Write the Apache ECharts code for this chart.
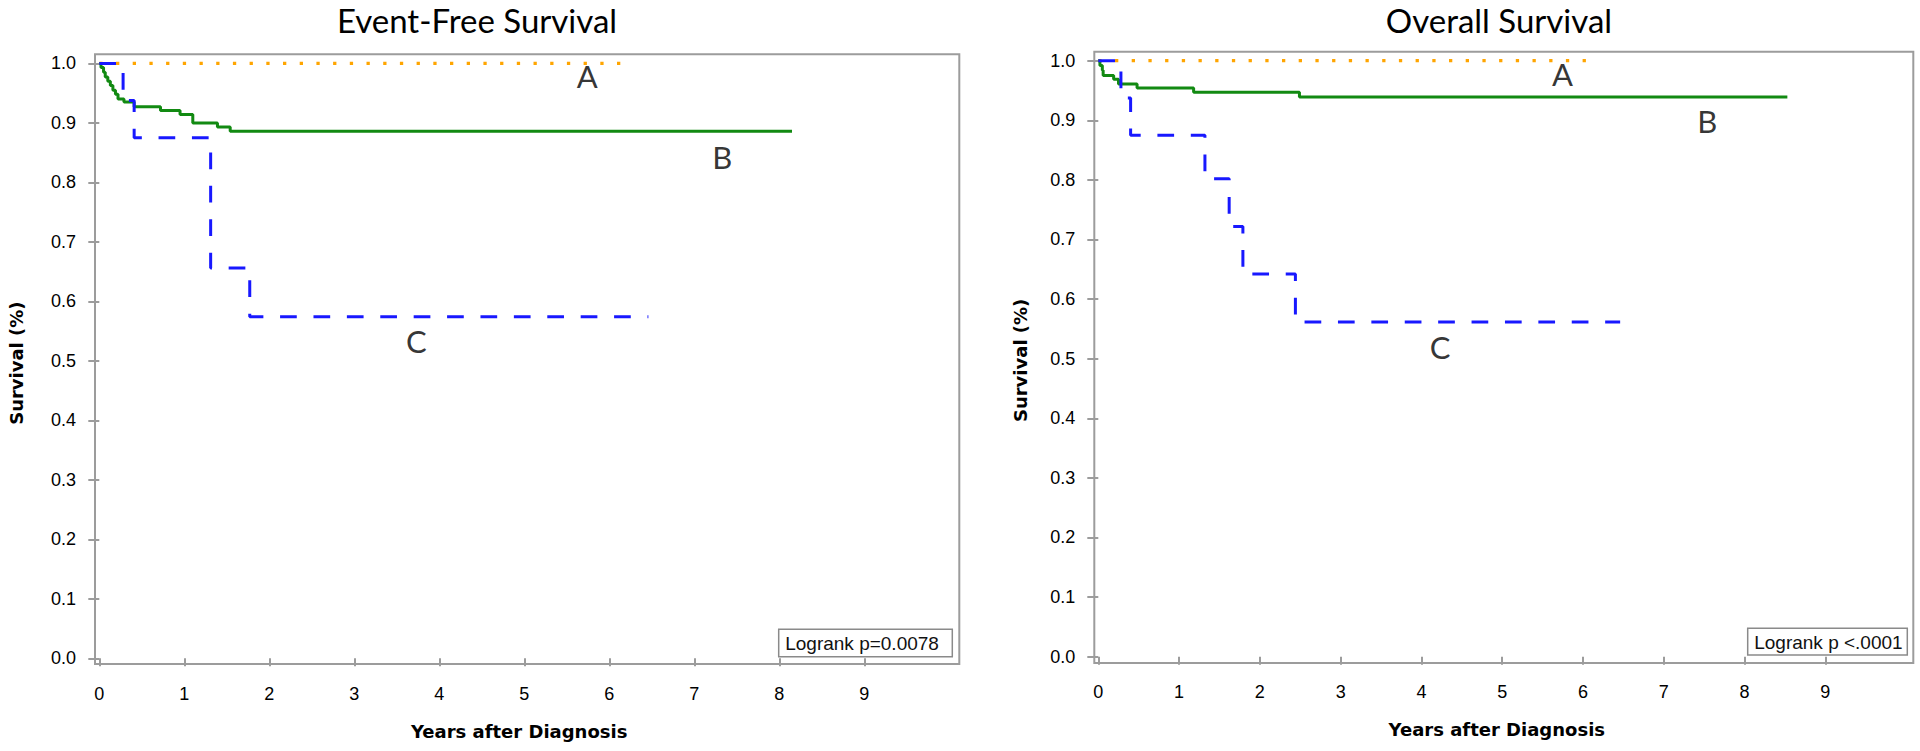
<!DOCTYPE html>
<html>
<head>
<meta charset="utf-8">
<script src="https://cdn.jsdelivr.net/npm/echarts@6/dist/echarts.min.js"></script>
<style>html,body{margin:0;padding:0;background:#fff}#c{width:1920px;height:751px}</style>
</head>
<body>
<div id="c"></div>
<script>
// ---------- data ----------
const xTicks = [0, 1, 2, 3, 4, 5, 6, 7, 8, 9];
const yTicks = [0, 0.1, 0.2, 0.3, 0.4, 0.5, 0.6, 0.7, 0.8, 0.9, 1.0];
const panelTitles = ['Event-Free Survival', 'Overall Survival'];
const logrankTexts = ['Logrank p=0.0078', 'Logrank p <.0001'];
const xAxisName = 'Years after Diagnosis';
const yAxisName = 'Survival (%)';
const groupNames = ['A', 'B', 'C'];

// Event-free survival: [years, survival]
const efsA = [[0, 1.0], [6.15, 1.0]];
const efsB = [[0, 1.0], [0.02, 0.993], [0.05, 0.985], [0.07, 0.977], [0.10, 0.970], [0.13, 0.963],
  [0.16, 0.955], [0.19, 0.948], [0.22, 0.940], [0.29, 0.935], [0.41, 0.927], [0.72, 0.921],
  [0.95, 0.914], [1.10, 0.900], [1.39, 0.893], [1.54, 0.886], [8.15, 0.886]];
const efsC = [[0, 1.0], [0.28, 0.9375], [0.41, 0.875], [1.31, 0.656], [1.77, 0.574], [6.46, 0.574]];

// Overall survival: [years, survival]
const osA = [[0, 1.0], [6.12, 1.0]];
const osB = [[0, 1.0], [0.02, 0.992], [0.05, 0.984], [0.06, 0.975], [0.19, 0.969], [0.25, 0.961],
  [0.48, 0.954], [1.18, 0.947], [2.49, 0.939], [8.53, 0.939]];
const osC = [[0, 1.0], [0.28, 0.9375], [0.40, 0.875], [1.32, 0.802], [1.62, 0.722], [1.79, 0.642],
  [2.44, 0.5615], [6.46, 0.5615]];

// group label anchors in data units [years, survival]
const efsLabelAt = [[5.74, 0.979], [7.33, 0.842], [3.73, 0.533]];
const osLabelAt = [[5.745, 0.978], [7.54, 0.899], [4.23, 0.519]];

// ---------- chart ----------
const chart = echarts.init(document.getElementById('c'), null, {renderer: 'svg'});

const FRAME = '#9c9c9c';
const TXT = '#000';

const grids = [
  {left: 95, right: 960.7, top: 54.3, bottom: 87},
  {left: 1094.3, right: 6.7, top: 51.7, bottom: 88}
];
const xRange = [[-0.0506, 10.118], [-0.0495, 10.089]];
const yRange = [[-0.0096, 1.0153], [-0.0106, 1.0151]];
const xLabelMargin = [21, 20];
const xNameGap = [58, 57];
const xNameShift = [16, 14];
const yNameGap = [70, 65];
const yNameShift = [8, 6];

function xAxisFor(i) {
  return {
    type: 'value', gridIndex: i, min: xRange[i][0], max: xRange[i][1],
    axisLine: {show: false}, splitLine: {show: false},
    axisTick: {show: true, length: 8, customValues: xTicks, lineStyle: {color: FRAME, width: 2}},
    axisLabel: {customValues: xTicks, margin: xLabelMargin[i], fontSize: 18, color: TXT,
      fontFamily: 'Liberation Sans', formatter: v => String(Math.round(v))},
    name: xAxisName, nameLocation: 'middle', nameGap: xNameGap[i],
    nameTextStyle: {fontFamily: 'DejaVu Sans', fontWeight: 'bold', fontSize: 18, color: TXT,
      padding: [0, xNameShift[i], 0, 0]}
  };
}
function yAxisFor(i) {
  return {
    type: 'value', gridIndex: i, min: yRange[i][0], max: yRange[i][1],
    axisLine: {show: false}, splitLine: {show: false},
    axisTick: {show: true, length: 11, customValues: yTicks, lineStyle: {color: FRAME, width: 2}},
    axisLabel: {customValues: yTicks, margin: 19, fontSize: 18, color: TXT,
      fontFamily: 'Liberation Sans', formatter: v => v.toFixed(1)},
    name: yAxisName, nameLocation: 'middle', nameGap: yNameGap[i], nameRotate: 90,
    nameTextStyle: {fontFamily: 'DejaVu Sans', fontWeight: 'bold', fontSize: 18, color: TXT,
      padding: [0, yNameShift[i], 0, 0]}
  };
}

function lineA(data, i) {
  return {type: 'line', step: 'end', xAxisIndex: i, yAxisIndex: i, data, symbol: 'none', silent: true,
    z: 2, lineStyle: {color: '#ffa500', width: 3.3, type: [3.3, 13.4], cap: 'butt'}};
}
function lineB(data, i) {
  return {type: 'line', step: 'end', xAxisIndex: i, yAxisIndex: i, data, symbol: 'none', silent: true,
    z: 3, lineStyle: {color: '#128a12', width: 3}};
}
function lineC(data, i) {
  return {type: 'line', step: 'end', xAxisIndex: i, yAxisIndex: i, data, symbol: 'none', silent: true,
    z: 4, lineStyle: {color: '#1818ff', width: 3, type: [16.7, 16.7], cap: 'butt'}};
}
function labels(anchors, i) {
  return {type: 'scatter', xAxisIndex: i, yAxisIndex: i, symbolSize: 1, silent: true, z: 5,
    itemStyle: {color: 'rgba(0,0,0,0)'},
    data: anchors.map((p, k) => ({value: p, name: groupNames[k]})),
    label: {show: true, position: 'inside', formatter: p => p.name,
      fontFamily: 'Lato', fontSize: 31, color: '#000'}};
}

const titleX = [477, 1499];
const boxes = [
  {x: 778.7, y: 629.3, w: 173.6, h: 27.4},
  {x: 1747.7, y: 628.3, w: 159.6, h: 26.7}
];

const graphic = [];
panelTitles.forEach((t, i) => {
  graphic.push({type: 'text', x: titleX[i], y: 20, silent: true,
    style: {text: t, font: '33px Lato', fill: '#000', align: 'center', verticalAlign: 'middle'}});
});
logrankTexts.forEach((t, i) => {
  const b = boxes[i];
  graphic.push({type: 'group', x: b.x, y: b.y, silent: true, children: [
    {type: 'rect', shape: {x: 0, y: 0, width: b.w, height: b.h},
      style: {fill: '#fff', stroke: '#8a8a8a', lineWidth: 1.5}},
    {type: 'text', x: 6.5, y: b.h / 2 + 0.5,
      style: {text: t, font: '19px "Liberation Sans"', fill: '#111', verticalAlign: 'middle'}}
  ]});
});

chart.setOption({
  animation: false,
  backgroundColor: '#fff',
  grid: grids.map(g => Object.assign({show: true, borderColor: FRAME, borderWidth: 2,
    backgroundColor: 'transparent'}, g)),
  xAxis: [xAxisFor(0), xAxisFor(1)],
  yAxis: [yAxisFor(0), yAxisFor(1)],
  series: [
    lineA(efsA, 0), lineB(efsB, 0), lineC(efsC, 0), labels(efsLabelAt, 0),
    lineA(osA, 1), lineB(osB, 1), lineC(osC, 1), labels(osLabelAt, 1)
  ],
  graphic
});
</script>
</body>
</html>
